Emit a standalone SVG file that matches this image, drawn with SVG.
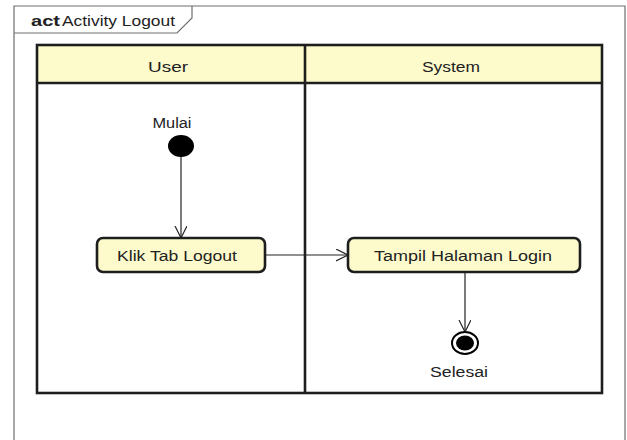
<svg xmlns="http://www.w3.org/2000/svg" width="627" height="440" viewBox="0 0 627 440">
  <defs>
    <style>
      text { font-family: "Liberation Sans", Arial, sans-serif; fill: #222; font-size: 14px; }
      .lbl { text-anchor: middle; }
      .frame { fill: none; stroke: #6e6e6e; stroke-width: 1.2; }
      .lane { fill: none; stroke: #1e1e1e; stroke-width: 2.6; }
      .head { fill: #fdfbcc; }
      .action { fill: #fdfbcc; stroke: #1e1e1e; stroke-width: 2.6; }
      .flow { fill: none; stroke: #222; stroke-width: 1.2; }
    </style>
    <marker id="open" markerWidth="14" markerHeight="14" refX="12" refY="6" orient="auto" markerUnits="userSpaceOnUse">
      <path d="M0,0 L12,6 L0,12" fill="none" stroke="#222" stroke-width="1.2"/>
    </marker>
  </defs>
  <rect x="0" y="0" width="627" height="440" fill="#ffffff"/>

  <!-- diagram frame with name tab -->
  <g id="frame">
    <path class="frame" d="M14,440 L14,6 L625,6 L625,440"/>
    <path class="frame" d="M14,33 L177,33 L192,18 L192,6"/>
    <text x="31" y="26" font-weight="bold" textLength="29" lengthAdjust="spacingAndGlyphs">act</text>
    <text x="62" y="26" textLength="113" lengthAdjust="spacingAndGlyphs">Activity Logout</text>
  </g>

  <!-- swimlanes -->
  <g id="lanes">
    <rect class="head" x="37" y="45" width="565" height="38"/>
    <rect class="lane" x="37" y="45" width="565" height="348"/>
    <line class="lane" x1="37" y1="83" x2="602" y2="83"/>
    <line class="lane" x1="305" y1="45" x2="305" y2="393"/>
    <text class="lbl" x="168" y="72" textLength="40" lengthAdjust="spacingAndGlyphs">User</text>
    <text class="lbl" x="451" y="72" textLength="58" lengthAdjust="spacingAndGlyphs">System</text>
  </g>

  <!-- connectors -->
  <g id="connectors">
    <line class="flow" x1="181" y1="157" x2="181" y2="238" marker-end="url(#open)"/>
    <line class="flow" x1="265" y1="255" x2="348" y2="255" marker-end="url(#open)"/>
    <line class="flow" x1="465" y1="272" x2="465" y2="332" marker-end="url(#open)"/>
  </g>

  <g id="start">
    <ellipse cx="181" cy="146" rx="13" ry="11" fill="#000"/>
    <text class="lbl" x="172" y="128" textLength="39" lengthAdjust="spacingAndGlyphs">Mulai</text>
  </g>

  <g id="klik-tab-logout">
    <rect class="action" x="97" y="238" width="168" height="34" rx="6"/>
    <text class="lbl" x="177" y="261" textLength="120" lengthAdjust="spacingAndGlyphs">Klik Tab Logout</text>
  </g>

  <g id="tampil-halaman-login">
    <rect class="action" x="348" y="238" width="232" height="34" rx="6"/>
    <text class="lbl" x="463" y="261" textLength="178" lengthAdjust="spacingAndGlyphs">Tampil Halaman Login</text>
  </g>

  <g id="end">
    <ellipse cx="465" cy="343" rx="13" ry="11" fill="#fff" stroke="#000" stroke-width="2"/>
    <ellipse cx="465" cy="343" rx="9" ry="7.5" fill="#000"/>
    <text class="lbl" x="459" y="377" textLength="58" lengthAdjust="spacingAndGlyphs">Selesai</text>
  </g>
</svg>
